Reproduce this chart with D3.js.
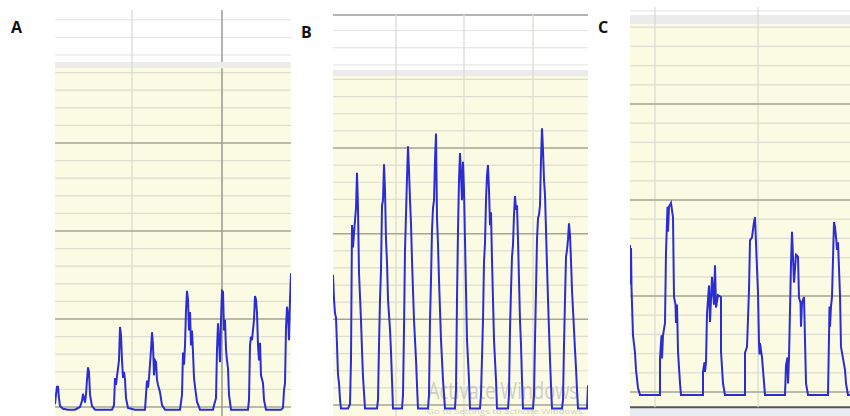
<!DOCTYPE html>
<html>
<head>
<meta charset="utf-8">
<script src="https://cdn.jsdelivr.net/npm/d3@7"></script>
<style>
  body { margin: 0; background: #fff; }
  svg { display: block; }
</style>
</head>
<body>
<svg id="main_svg" width="850" height="416"></svg>
<script>
// panel letters
const panelLabels = ["A", "B", "C"];

// traces: [sample index, value]
const traceA = [
  [0,3],[1,14],[2,23],[3,23],[4,10],[5,1],[8,-2],[13,-3],[20,-3],[25,0],[27,7],[28,15],[29,10],[30,5],
  [31,14],[32,31],[33,45],[34,40],[35,14],[37,1],[40,-3],[57,-3],[59,2],[60,33],[61,25],[62,35],
  [64,53],[65,91],[66,82],[67,53],[68,33],[69,40],[70,31],[71,10],[73,-1],[80,-3],[90,-3],[91,14],
  [92,30],[93,22],[94,33],[96,65],[97,85],[98,70],[99,36],[100,53],[101,51],[102,31],[103,25],
  [105,17],[107,2],[110,-3],[125,-3],[127,14],[128,62],[129,48],[130,70],[131,110],[132,132],
  [133,122],[134,87],[135,108],[136,70],[137,87],[138,62],[139,33],[140,23],[142,6],[145,-3],
  [158,-3],[159,2],[160,6],[161,10],[162,65],[163,95],[164,76],[165,51],[166,99],[167,132],
  [168,131],[169,87],[170,99],[171,65],[172,53],[173,44],[174,14],[176,-3],[193,-3],[194,8],
  [195,70],[196,80],[197,76],[199,99],[200,126],[201,122],[202,107],[203,70],[204,53],[205,73],
  [206,36],[208,27],[209,8],[211,-3],[226,-3],[228,-1],[229,19],[230,27],[231,90],[232,114],
  [233,105],[234,76],[235,122],[236,152]
];

const traceB = [
  [0,152],[1,123],[2,107],[3,102],[4,70],[5,35],[6,26],[7,6],[8,-4],[15,-4],[17,1],[18,53],
  [19,210],[20,184],[21,201],[23,230],[24,271],[25,230],[26,154],[28,99],[29,64],[30,33],[32,-4],
  [44,-4],[45,6],[46,70],[47,123],[48,158],[49,233],[50,239],[51,281],[52,251],[53,193],[54,167],
  [55,123],[57,88],[58,62],[60,-4],
  [69,-4],[70,12],[71,88],[72,181],[73,222],[74,265],[75,302],[76,274],[77,239],[78,212],[79,169],
  [81,99],[83,53],[84,23],[85,-4],
  [95,-4],[96,12],[97,99],[98,146],[99,204],[100,230],[101,239],[102,286],[103,317],[104,219],
  [105,187],[106,146],[108,76],[110,29],[112,-4],
  [122,-4],[123,18],[124,123],[125,204],[126,263],[127,294],[128,268],[129,239],[130,284],
  [131,251],[132,193],[133,134],[134,76],[136,29],[137,-4],
  [147,-4],[148,12],[150,99],[151,167],[152,189],[153,239],[154,268],[155,280],[156,251],
  [157,210],[158,225],[159,169],[160,123],[161,76],[163,29],[164,-4],
  [175,-4],[176,12],[177,88],[178,134],[179,173],[180,187],[181,222],[182,244],[183,228],
  [184,233],[185,193],[186,146],[187,99],[188,70],[189,29],[190,-4],
  [200,-4],[201,12],[202,76],[203,134],[204,193],[205,218],[206,222],[207,233],[208,286],
  [209,323],[210,298],[211,263],[212,245],[213,204],[214,163],[215,123],[216,88],[217,53],
  [218,23],[219,-4],
  [229,-4],[230,6],[231,70],[232,123],[233,173],[234,181],[235,193],[236,212],[237,198],
  [238,169],[239,134],[241,88],[242,64],[243,43],[244,18],[245,-4],
  [254,-4],[255,23]
];

const traceC = [
  [0,153],[0.6,112],[1,150],[1.5,109],[3,59],[5,41],[6,23],[8,4],[10,-3],
  [30,-3],[30,35],[31.5,59],[32,35],[33,59],[35,72],[36,146],[37.5,193],[38,167],[39,193],
  [41,197],[43,182],[44,99],[45.5,91],[46,72],[47,91],[48,42],[50,9],[51,-3],
  [73,-3],[73,21],[74.5,31],[75,21],[76,31],[77,82],[79,111],[80,73],[82,120],[84,91],
  [85,132],[86,88],[88,101],[91,99],[91,42],[93,9],[95,-3],
  [115,-3],[115,41],[117,47],[119,106],[120,158],[122,161],[124,177],[125,182],[126,155],
  [128,103],[129,51],[129.5,39],[130,51],[132,36],[134,10],[135,-3],
  [155,-3],[156,28],[157.5,36],[158,9],[159,36],[161,134],[162,167],[164,114],[166,143],
  [168,141],[169,98],[170.5,93],[171,68],[172,93],[174,99],[175,54],[176,9],[178,-3],
  [198,-3],[199,57],[199.5,89],[200,68],[201,89],[202,99],[204,177],[205,172],[206.5,156],
  [207,148],[208,156],[210,101],[211,47],[215,23],[216,9],[218,-3],[220,-3]
];

// vertical grid positions (sample index)
const vLinesA = [77, 167];
const vLinesB = [63, 131, 200];
const vLinesC = [25, 128];

// horizontal grid lines in the white header strip
const headerA = [400, 420, 440];
const headerB = [397, 417, 437];
const headerC = [397];

// grid steps inside the yellow area
const minorTicks = d3.range(0, 381, 20);
const majorTicks = [0, 100, 200, 300];

// watermark lines on panel B
const watermarkLines = ["Activate Windows", "Go to Settings to activate Windows."];

const panels = [
  { label: panelLabels[0], trace: traceA, vLines: vLinesA, header: headerA, darkV: [167],
    x0: 55, x1: 291, tMax: 236, yZero: 407, y300: 143, top: 10, bandTop: 392, bandBottom: 385,
    lx: 11, ly: 33 },
  { label: panelLabels[1], trace: traceB, vLines: vLinesB, header: headerB, darkV: [],
    x0: 333, x1: 588, tMax: 255, yZero: 405, y300: 148, top: 14, bandTop: 391, bandBottom: 384,
    lx: 301, ly: 38, topBorder: true, watermark: true },
  { label: panelLabels[2], trace: traceC, vLines: vLinesC, header: headerC, darkV: [],
    x0: 630, x1: 850, tMax: 220, yZero: 392, y300: 104, top: 7, bandTop: 393, bandBottom: 383,
    lx: 598, ly: 33, footer: -16 }
];

const svg = d3.select("#main_svg");

panels.forEach(function (p, i) {
  let x = d3.scaleLinear().domain([0, p.tMax]).range([p.x0, p.x1]);
  let y = d3.scaleLinear().domain([0, 300]).range([p.yZero, p.y300]);
  let g = svg.append("g");

  let clipId = "clip" + i;
  svg.append("clipPath").attr("id", clipId)
     .append("rect")
     .attr("x", p.x0).attr("y", p.top)
     .attr("width", p.x1 - p.x0).attr("height", 416 - p.top);
  g.attr("clip-path", "url(#" + clipId + ")");

  let bottomY = p.footer !== undefined ? y(p.footer) : 416;

  // white header strip
  g.append("rect")
   .attr("x", p.x0).attr("y", p.top)
   .attr("width", p.x1 - p.x0).attr("height", y(p.bandTop) - p.top)
   .style("fill", "#ffffff");
  // grey separator band
  g.append("rect")
   .attr("x", p.x0).attr("y", y(p.bandTop))
   .attr("width", p.x1 - p.x0).attr("height", y(p.bandBottom) - y(p.bandTop))
   .style("fill", "#ececec");
  // yellow plot area
  g.append("rect")
   .attr("x", p.x0).attr("y", y(p.bandBottom))
   .attr("width", p.x1 - p.x0).attr("height", bottomY - y(p.bandBottom))
   .style("fill", "#fbfbe3");

  if (p.footer !== undefined) {
    g.append("rect")
     .attr("x", p.x0).attr("y", bottomY)
     .attr("width", p.x1 - p.x0).attr("height", 416 - bottomY)
     .style("fill", "#e9edf1");
    g.append("line")
     .attr("x1", p.x0).attr("x2", p.x1)
     .attr("y1", bottomY).attr("y2", bottomY)
     .style("stroke", "#555").style("stroke-width", 2);
  }

  // header lines
  g.selectAll(".hdr").data(p.header).enter().append("line")
   .attr("x1", p.x0).attr("x2", p.x1)
   .attr("y1", d => y(d)).attr("y2", d => y(d))
   .style("stroke", "#e2e2e2").style("stroke-width", 1);

  if (p.topBorder) {
    g.append("line")
     .attr("x1", p.x0).attr("x2", p.x1)
     .attr("y1", p.top + 1).attr("y2", p.top + 1)
     .style("stroke", "#b4b4b4").style("stroke-width", 2);
  }

  // minor / major horizontal lines in the plot area
  g.selectAll(".minor").data(minorTicks.filter(d => majorTicks.indexOf(d) < 0 && d < p.bandBottom))
   .enter().append("line")
   .attr("x1", p.x0).attr("x2", p.x1)
   .attr("y1", d => y(d)).attr("y2", d => y(d))
   .style("stroke", "#deded0").style("stroke-width", 1.2);

  // vertical lines
  g.selectAll(".vl").data(p.vLines.filter(d => p.darkV.indexOf(d) < 0)).enter().append("line")
   .attr("x1", d => x(d)).attr("x2", d => x(d))
   .attr("y1", p.top).attr("y2", bottomY)
   .style("stroke", "#dcdcd2").style("stroke-width", 1.3);

  g.selectAll(".major").data(majorTicks).enter().append("line")
   .attr("x1", p.x0).attr("x2", p.x1)
   .attr("y1", d => y(d)).attr("y2", d => y(d))
   .style("stroke", "#a5a596").style("stroke-width", 1.5);

  // darker cursor-like verticals, broken at the grey band
  p.darkV.forEach(function (d) {
    g.append("line")
     .attr("x1", x(d)).attr("x2", x(d))
     .attr("y1", p.top).attr("y2", y(p.bandTop))
     .style("stroke", "#9a9a9a").style("stroke-width", 1.5);
    g.append("line")
     .attr("x1", x(d)).attr("x2", x(d))
     .attr("y1", y(p.bandBottom)).attr("y2", bottomY)
     .style("stroke", "#9a9a8e").style("stroke-width", 1.5);
  });

  if (p.watermark) {
    g.append("text")
     .attr("x", 428).attr("y", 399)
     .attr("textLength", 150).attr("lengthAdjust", "spacingAndGlyphs")
     .style("font-family", "'Open Sans', sans-serif")
     .style("font-size", "24px")
     .style("fill", "#bdbdbd").style("fill-opacity", 0.75)
     .text(watermarkLines[0]);
    g.append("text")
     .attr("x", 427).attr("y", 414)
     .attr("textLength", 158).attr("lengthAdjust", "spacingAndGlyphs")
     .style("font-family", "'Open Sans', sans-serif")
     .style("font-size", "7px")
     .style("fill", "#c4c4c4").style("fill-opacity", 0.8)
     .text(watermarkLines[1]);
  }

  // trace
  let line = d3.line()
    .x(d => x(d[0]))
    .y(d => y(d[1]));

  g.append("path")
   .datum(p.trace)
   .attr("d", line)
   .style("fill", "none")
   .style("stroke", "#2c2cd4")
   .style("stroke-width", 2)
   .style("stroke-linejoin", "miter");

  // panel letter
  svg.append("text")
     .attr("x", p.lx).attr("y", p.ly)
     .style("font-family", "'Open Sans', sans-serif")
     .style("font-weight", "bold")
     .style("font-size", "16px")
     .style("fill", "#111")
     .text(p.label);
});
</script>
</body>
</html>
